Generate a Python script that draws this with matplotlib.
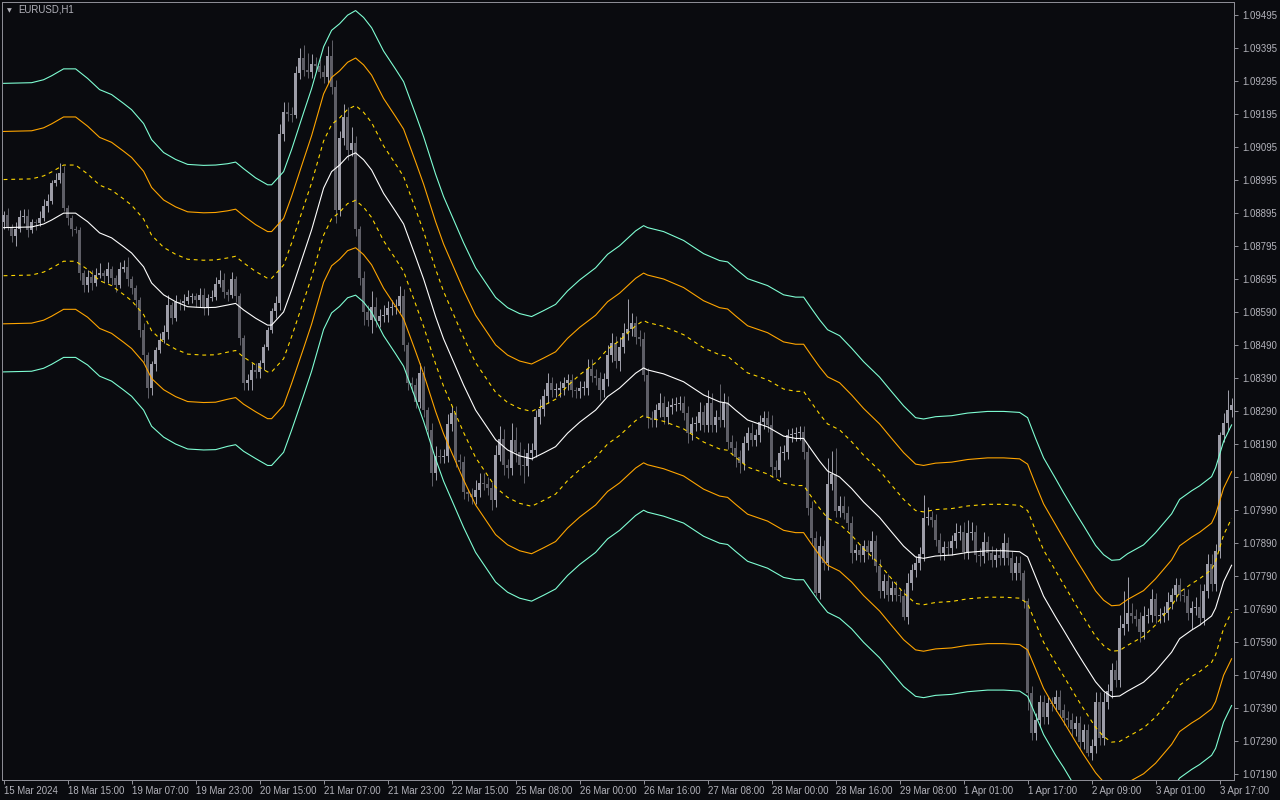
import numpy as np
import matplotlib
matplotlib.use("Agg")
import matplotlib.pyplot as plt

# ---------------- data ----------------
symbol_title = "EURUSD,H1"
open_first = 1.08867
close = [
    1.08889, 1.08852, 1.08825, 1.08846, 1.08883, 1.08886, 1.08843, 1.08867, 1.08864, 1.08879,
    1.08916, 1.08931, 1.08986, 1.08995, 1.09016, 1.08910, 1.08879, 1.08846, 1.08843, 1.08712,
    1.08676, 1.08700, 1.08682, 1.08706, 1.08712, 1.08703, 1.08725, 1.08697, 1.08676, 1.08725,
    1.08731, 1.08694, 1.08667, 1.08630, 1.08539, 1.08463, 1.08363, 1.08436, 1.08479, 1.08509,
    1.08533, 1.08615, 1.08576, 1.08624, 1.08621, 1.08627, 1.08640, 1.08643, 1.08630, 1.08646,
    1.08606, 1.08637, 1.08640, 1.08679, 1.08691, 1.08655, 1.08646, 1.08694, 1.08643, 1.08515,
    1.08378, 1.08387, 1.08418, 1.08412, 1.08439, 1.08488, 1.08539, 1.08597, 1.08621, 1.09134,
    1.09201, 1.09195, 1.09192, 1.09320, 1.09365, 1.09329, 1.09323, 1.09347, 1.09341, 1.09323,
    1.09308, 1.09371, 1.09277, 1.08904, 1.09122, 1.09186, 1.09086, 1.09107, 1.08846, 1.08697,
    1.08594, 1.08570, 1.08609, 1.08567, 1.08582, 1.08585, 1.08606, 1.08609, 1.08612, 1.08643,
    1.08494, 1.08378, 1.08372, 1.08321, 1.08409, 1.08296, 1.08236, 1.08105, 1.08157, 1.08154,
    1.08157, 1.08254, 1.08287, 1.08144, 1.08138, 1.08047, 1.08041, 1.08032, 1.08053, 1.08075,
    1.08072, 1.08059, 1.08023, 1.08160, 1.08208, 1.08129, 1.08120, 1.08206, 1.08169, 1.08129,
    1.08126, 1.08166, 1.08175, 1.08275, 1.08299, 1.08339, 1.08378, 1.08357, 1.08357, 1.08363,
    1.08378, 1.08387, 1.08357, 1.08354, 1.08363, 1.08363, 1.08421, 1.08400, 1.08393, 1.08357,
    1.08390, 1.08463, 1.08500, 1.08445, 1.08488, 1.08530, 1.08542, 1.08561, 1.08518, 1.08512,
    1.08403, 1.08272, 1.08266, 1.08296, 1.08318, 1.08275, 1.08305, 1.08312, 1.08315, 1.08318,
    1.08287, 1.08226, 1.08254, 1.08257, 1.08290, 1.08251, 1.08318, 1.08251, 1.08275, 1.08266,
    1.08318, 1.08199, 1.08181, 1.08154, 1.08135, 1.08196, 1.08226, 1.08206, 1.08220, 1.08260,
    1.08272, 1.08251, 1.08123, 1.08114, 1.08166, 1.08169, 1.08220, 1.08223, 1.08226, 1.08229,
    1.08169, 1.07999, 1.07908, 1.07741, 1.07883, 1.07832, 1.08072, 1.08102, 1.07990, 1.08005,
    1.07984, 1.07953, 1.07862, 1.07871, 1.07856, 1.07883, 1.07865, 1.07898, 1.07823, 1.07747,
    1.07777, 1.07735, 1.07756, 1.07735, 1.07732, 1.07668, 1.07771, 1.07810, 1.07832, 1.07859,
    1.07968, 1.07971, 1.07962, 1.07902, 1.07862, 1.07880, 1.07877, 1.07898, 1.07923, 1.07926,
    1.07865, 1.07923, 1.07926, 1.07856, 1.07853, 1.07895, 1.07862, 1.07841, 1.07856, 1.07847,
    1.07892, 1.07847, 1.07801, 1.07832, 1.07801, 1.07716, 1.07437, 1.07315, 1.07355, 1.07410,
    1.07364, 1.07406, 1.07403, 1.07425, 1.07385, 1.07361, 1.07355, 1.07327, 1.07346, 1.07288,
    1.07324, 1.07255, 1.07276, 1.07410, 1.07300, 1.07410, 1.07443, 1.07507, 1.07476, 1.07634,
    1.07646, 1.07680, 1.07671, 1.07662, 1.07622, 1.07671, 1.07674, 1.07722, 1.07671, 1.07674,
    1.07680, 1.07713, 1.07735, 1.07765, 1.07735, 1.07732, 1.07680, 1.07695, 1.07698, 1.07665,
    1.07747, 1.07829, 1.07768, 1.07868, 1.08220, 1.08257, 1.08296, 1.08312,
]
wick_up_pips = [
    1, 2, 1, 2, 2, 2, 2, 1, 1, 2,  2, 2, 1, 2, 3, 2, 1, 1, 1, 1,
    1, 2, 2, 2, 3, 1, 2, 1, 1, 2,  2, 3, 1, 1, 1, 2, 1, 1, 1, 2,
    2, 3, 1, 2, 1, 2, 2, 1, 1, 2,  2, 1, 2, 2, 3, 2, 1, 2, 1, 1,
    1, 2, 2, 2, 1, 1, 1, 1, 2, 3,  3, 3, 2, 2, 3, 4, 5, 3, 2, 2,
    2, 3, 5, 2, 2, 4, 3, 5, 2, 1,  2, 2, 5, 3, 2, 3, 2, 2, 2, 3,
    2, 1, 2, 2, 3, 2, 1, 2, 3, 2,  2, 3, 2, 2, 2, 2, 1, 2, 3, 3,
    3, 2, 2, 3, 4, 3, 2, 5, 4, 3,  5, 3, 2, 2, 3, 2, 3, 2, 2, 2,
    2, 2, 2, 1, 2, 2, 3, 3, 2, 2,  2, 3, 3, 2, 3, 3, 9, 3, 2, 2,
    2, 2, 2, 2, 3, 2, 2, 2, 2, 2,  2, 2, 2, 2, 3, 2, 4, 3, 2, 10,
    3, 2, 2, 2, 2, 2, 2, 3, 2, 2,  2, 2, 3, 2, 2, 2, 2, 2, 2, 2,
    2, 2, 2, 2, 3, 2, 8, 7, 8, 3,  3, 2, 2, 2, 2, 2, 2, 3, 2, 2,
    2, 2, 2, 2, 2, 2, 3, 2, 2, 2,  7, 3, 2, 2, 2, 2, 2, 2, 3, 2,
    3, 4, 3, 2, 2, 3, 2, 2, 2, 2,  3, 2, 2, 2, 2, 1, 1, 2, 2, 2,
    2, 2, 2, 2, 2, 2, 2, 2, 2, 2,  2, 2, 2, 3, 3, 3, 2, 2, 3, 4,
    10, 11, 3, 2, 2, 3, 2, 3, 2, 2, 2, 3, 2, 2, 2, 2, 2, 2, 3, 7,
    2, 3, 3, 2, 1, 3, 6, 2,
]
wick_dn_pips = [
    2, 1, 2, 3, 1, 2, 2, 1, 2, 1,  1, 2, 1, 1, 1, 1, 2, 2, 1, 2,
    2, 2, 2, 1, 1, 2, 2, 2, 2, 1,  1, 2, 2, 2, 2, 2, 3, 2, 2, 1,
    1, 2, 2, 1, 2, 2, 1, 2, 2, 2,  2, 2, 1, 1, 1, 2, 2, 1, 2, 2,
    2, 2, 3, 2, 2, 2, 1, 1, 2, 2,  2, 2, 2, 1, 2, 2, 2, 2, 2, 2,
    2, 2, 2, 4, 2, 2, 3, 2, 2, 2,  4, 2, 4, 2, 2, 2, 2, 2, 2, 2,
    2, 2, 2, 2, 2, 2, 2, 4, 2, 2,  2, 2, 2, 2, 2, 2, 2, 2, 2, 2,
    2, 2, 3, 2, 2, 3, 3, 2, 3, 3,  5, 3, 2, 2, 2, 2, 2, 2, 2, 2,
    2, 2, 2, 2, 2, 2, 2, 2, 2, 3,  2, 2, 2, 2, 3, 2, 2, 2, 2, 2,
    2, 3, 2, 2, 2, 2, 2, 2, 2, 2,  2, 3, 2, 2, 2, 2, 2, 2, 2, 2,
    2, 2, 2, 3, 3, 2, 2, 2, 2, 2,  2, 2, 3, 2, 2, 2, 2, 2, 2, 2,
    2, 2, 2, 1, 2, 2, 2, 2, 2, 2,  2, 2, 3, 2, 2, 2, 2, 2, 2, 2,
    2, 2, 2, 2, 2, 1, 2, 2, 2, 2,  2, 2, 2, 2, 2, 2, 2, 2, 2, 2,
    2, 2, 2, 2, 3, 2, 2, 2, 2, 2,  2, 2, 2, 2, 2, 2, 5, 2, 2, 2,
    2, 2, 2, 2, 2, 2, 2, 2, 2, 2,  2, 1, 2, 2, 2, 2, 2, 2, 2, 2,
    2, 2, 2, 2, 3, 2, 2, 2, 2, 2,  2, 2, 2, 2, 2, 2, 2, 5, 2, 2,
    2, 2, 2, 2, 2, 2, 2, 2,
]

# centre line of the bands (bar index, price) and band step read at those bars
mid_bar = [0, 7, 10, 12, 15, 18, 21, 24, 27, 30, 32, 35, 37, 40, 43, 46, 50, 53, 56, 58,
           60, 63, 66, 67, 70, 72, 75, 77, 80, 82, 84, 86, 88, 90, 92, 95, 98, 100, 103, 105,
           108, 110, 113, 115, 118, 120, 123, 126, 129, 132, 135, 138, 141, 144, 148, 151, 154, 158, 160, 161,
           165, 170, 175, 179, 181, 183, 186, 191, 195, 198, 200, 202, 204, 206, 209, 212, 215, 219, 222, 225,
           228, 230, 233, 237, 241, 246, 250, 254, 256, 258, 260, 263, 265, 268, 270, 273, 275, 277, 279, 281,
           285, 288, 292, 294, 297, 299, 302, 303, 305, 307]
mid_price = [1.08850, 1.08852, 1.08861, 1.08873, 1.08894, 1.08894, 1.08868, 1.08834, 1.08819, 1.08792,
             1.08773, 1.08731, 1.08682, 1.08646, 1.08625, 1.08610, 1.08607, 1.08608, 1.08615, 1.08620,
             1.08600, 1.08575, 1.08554, 1.08554, 1.08594, 1.08661, 1.08770, 1.08843, 1.08970, 1.09020,
             1.09040, 1.09066, 1.09077, 1.09056, 1.09025, 1.08954, 1.08899, 1.08861, 1.08762, 1.08694,
             1.08580, 1.08512, 1.08428, 1.08372, 1.08296, 1.08260, 1.08206, 1.08175, 1.08157, 1.08148,
             1.08166, 1.08185, 1.08226, 1.08259, 1.08296, 1.08337, 1.08363, 1.08408, 1.08424, 1.08418,
             1.08406, 1.08382, 1.08342, 1.08321, 1.08317, 1.08296, 1.08266, 1.08245, 1.08217, 1.08210,
             1.08210, 1.08175, 1.08141, 1.08111, 1.08093, 1.08058, 1.08017, 1.07970, 1.07926, 1.07883,
             1.07850, 1.07846, 1.07853, 1.07856, 1.07864, 1.07869, 1.07869, 1.07866, 1.07850, 1.07790,
             1.07731, 1.07668, 1.07628, 1.07567, 1.07528, 1.07471, 1.07443, 1.07426, 1.07428, 1.07443,
             1.07470, 1.07504, 1.07561, 1.07602, 1.07628, 1.07643, 1.07671, 1.07695, 1.07775, 1.07825]
band_step = [0.00146, 0.00146, 0.00146, 0.00146, 0.00146, 0.00146, 0.00145, 0.00145, 0.00145, 0.00145,
             0.00145, 0.00145, 0.00145, 0.00144, 0.00144, 0.00144, 0.00144, 0.00144, 0.00143, 0.00143,
             0.00143, 0.00142, 0.00142, 0.00142, 0.00142, 0.00142, 0.00143, 0.00143, 0.00143, 0.00143,
             0.00143, 0.00143, 0.00144, 0.00144, 0.00144, 0.00144, 0.00144, 0.00144, 0.00144, 0.00144,
             0.00144, 0.00144, 0.00144, 0.00144, 0.00144, 0.00144, 0.00144, 0.00144, 0.00144, 0.00144,
             0.00144, 0.00144, 0.00144, 0.00144, 0.00144, 0.00144, 0.00144, 0.00144, 0.00144, 0.00144,
             0.00144, 0.00143, 0.00143, 0.00143, 0.00143, 0.00143, 0.00143, 0.00143, 0.00143, 0.00143,
             0.00143, 0.00143, 0.00143, 0.00143, 0.00143, 0.00142, 0.00142, 0.00142, 0.00142, 0.00142,
             0.00141, 0.00141, 0.00141, 0.00141, 0.00141, 0.00141, 0.00141, 0.00141, 0.00141, 0.00140,
             0.00140, 0.00140, 0.00139, 0.00139, 0.00139, 0.00138, 0.00138, 0.00138, 0.00138, 0.00139,
             0.00139, 0.00140, 0.00140, 0.00141, 0.00141, 0.00141, 0.00141, 0.00142, 0.00142, 0.00142]

x_tick_bars = [0, 16, 32, 48, 64, 80, 96, 112, 128, 144, 160, 176, 192, 208, 224, 240, 256, 272, 288, 304]
x_tick_labels = ["15 Mar 2024", "18 Mar 15:00", "19 Mar 07:00", "19 Mar 23:00", "20 Mar 15:00",
                 "21 Mar 07:00", "21 Mar 23:00", "22 Mar 15:00", "25 Mar 08:00", "26 Mar 00:00",
                 "26 Mar 16:00", "27 Mar 08:00", "28 Mar 00:00", "28 Mar 16:00", "29 Mar 08:00",
                 "1 Apr 01:00", "1 Apr 17:00", "2 Apr 09:00", "3 Apr 01:00", "3 Apr 17:00"]
y_tick_labels = ["1.07190", "1.07290", "1.07390", "1.07490", "1.07590", "1.07690", "1.07790", "1.07890",
                 "1.07990", "1.08090", "1.08190", "1.08290", "1.08390", "1.08490", "1.08590", "1.08695",
                 "1.08795", "1.08895", "1.08995", "1.09095", "1.09195", "1.09295", "1.09395", "1.09495"]

# ---------------- style ----------------
BG = "#0a0b0f"
FG = "#b4b4bc"
FRAME = "#8c8c94"
BULL = "#9d9da8"
BEAR = "#5e5e66"
PIP = 0.0001
PX = 0.72  # one pixel in points at 100 dpi

fig = plt.figure(figsize=(12.8, 8), dpi=100, facecolor=BG)
ax = fig.add_axes([2 / 1280, 20 / 800, 1232 / 1280, 778 / 800], facecolor=BG)

# candles
c = np.array(close)
o = np.array([open_first] + close[:-1])
idx = np.arange(len(c))
hi = np.maximum(o, c) + np.array(wick_up_pips) * PIP
lo = np.minimum(o, c) - np.array(wick_dn_pips) * PIP
bull = c >= o
cols = np.where(bull, BULL, BEAR)
ax.vlines(idx, lo, hi, colors=cols, linewidth=1.0 * PX, zorder=2)
ax.bar(idx, np.maximum(np.abs(c - o), 0.00003), bottom=np.minimum(o, c), width=0.78,
       color=cols, linewidth=0, zorder=3)

# bands
mb = np.array(mid_bar, dtype=float)
mp = np.array(mid_price)
st = np.array(band_step)
ax.plot(mb, mp, color="#ffffff", lw=1.1 * PX, zorder=4)
for k, col, dashed in [(1, "#ffd700", True), (2, "#ffa500", False), (3, "#7fffd4", False)]:
    for sgn in (1, -1):
        ln, = ax.plot(mb, mp + sgn * k * st, color=col, lw=1.1 * PX, zorder=4)
        if dashed:
            ln.set_dashes((3.5, 3.5))

# axes limits / ticks
ax.set_xlim(-0.4, 307.6)
ax.set_ylim(1.07173, 1.09535)

ax.yaxis.tick_right()
yt = np.linspace(1.07190, 1.09495, len(y_tick_labels))
ax.set_yticks(yt)
ax.set_yticklabels(y_tick_labels)
ax.set_xticks(x_tick_bars)
ax.set_xticklabels(x_tick_labels)
for lab in ax.get_xticklabels():
    lab.set_horizontalalignment("left")
ax.tick_params(axis="both", colors=FRAME, labelcolor=FG, labelsize=6.9, length=4 * PX,
               width=1 * PX, direction="out")
ax.tick_params(axis="y", pad=3)
ax.tick_params(axis="x", pad=1.5)
for lab in ax.get_xticklabels() + ax.get_yticklabels():
    lab.set_fontfamily("Liberation Sans")
for sp in ax.spines.values():
    sp.set_color(FRAME)
    sp.set_linewidth(1 * PX)

# title
fig.text(7 / 1280, 1 - 10.5 / 800, "\u25bc", color=FG, fontsize=4.5, ha="left", va="center",
         family="DejaVu Sans")
fig.text(18 / 1280, 1 - 10 / 800, symbol_title, color=FG, fontsize=6.9, ha="left", va="center",
         family="Liberation Sans")

fig.savefig("out.png", dpi=100, facecolor=BG)
